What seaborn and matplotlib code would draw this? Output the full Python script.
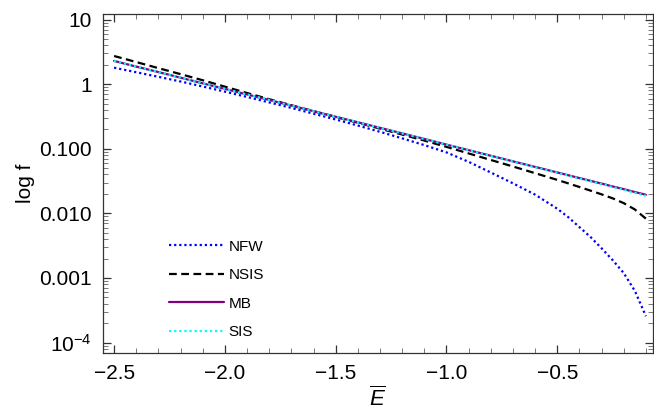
import numpy as np
import pandas as pd
import matplotlib
matplotlib.use("Agg")
import matplotlib.pyplot as plt
import matplotlib.ticker as mticker
import seaborn as sns

# Dimensionless energy grid
energy = [-2.5, -2.4, -2.3, -2.2, -2.1, -2.0, -1.9, -1.8, -1.7, -1.6, -1.5,
          -1.4, -1.3, -1.2, -1.1, -1.0, -0.9, -0.8, -0.7, -0.6, -0.5,
          -0.45, -0.4, -0.35, -0.3, -0.25, -0.2, -0.15, -0.1]

# Distribution function f(E) for each halo model
f_nfw = [1.80, 1.53, 1.30, 1.10, 0.920, 0.766, 0.634, 0.522, 0.429, 0.349, 0.284,
         0.229, 0.183, 0.145, 0.114, 0.0879, 0.0628, 0.0429, 0.0292, 0.0195, 0.0118,
         0.00871, 0.00612, 0.00431, 0.00288, 0.00189, 0.00119, 0.000632, 0.000256]
f_nsis = [2.73, 2.20, 1.77, 1.43, 1.15, 0.916, 0.730, 0.585, 0.472, 0.382, 0.311,
          0.253, 0.205, 0.166, 0.134, 0.107, 0.0847, 0.0671, 0.0532, 0.0419, 0.0330,
          0.0291, 0.0256, 0.0225, 0.0197, 0.0171, 0.0144, 0.0115, 0.00828]
f_mb = [2.29, 1.87, 1.54, 1.26, 1.03, 0.845, 0.693, 0.569, 0.466, 0.382, 0.313,
        0.257, 0.211, 0.173, 0.142, 0.116, 0.0951, 0.0780, 0.0639, 0.0524, 0.0430,
        0.0389, 0.0352, 0.0319, 0.0289, 0.0261, 0.0237, 0.0214, 0.0194]
f_sis = [2.29, 1.87, 1.54, 1.26, 1.03, 0.845, 0.693, 0.569, 0.466, 0.382, 0.313,
         0.257, 0.211, 0.173, 0.142, 0.116, 0.0948, 0.0776, 0.0634, 0.0519, 0.0425,
         0.0384, 0.0347, 0.0314, 0.0284, 0.0256, 0.0232, 0.0209, 0.0188]

model_names = ["NFW", "NSIS", "MB", "SIS"]
y_tick_values = [10, 1, 0.1, 0.01, 0.001, 1e-4]
y_tick_labels = ["10", "1", "0.100", "0.010", "0.001", r"$10^{-4}$"]
x_tick_values = [-2.5, -2.0, -1.5, -1.0, -0.5]

sns.set_theme(style="white")
plt.rcParams["font.family"] = ["Liberation Sans", "DejaVu Sans"]
plt.rcParams["mathtext.fontset"] = "custom"
plt.rcParams["mathtext.rm"] = "Liberation Sans"
plt.rcParams["mathtext.it"] = "Liberation Sans:italic"
plt.rcParams["text.color"] = "black"
plt.rcParams["axes.labelcolor"] = "black"

df = pd.DataFrame({
    "E": energy * 4,
    "f": f_nfw + f_nsis + f_mb + f_sis,
    "model": sum([[m] * len(energy) for m in model_names], []),
})

fig = plt.figure(figsize=(6.54, 4.20), dpi=100)
ax = fig.add_axes([0.1575, 0.1595, 0.841, 0.8072])

styles = {
    "NFW": dict(color="#0000ff", linestyle=(0, (1.0, 1.3))),
    "NSIS": dict(color="#000000", linestyle=(0, (3.5, 2.0))),
    "MB": dict(color="#800080", linestyle="-"),
    "SIS": dict(color="#00ffff", linestyle=(0, (1.0, 1.3))),
}
for name in model_names:
    sub = df[df["model"] == name]
    sns.lineplot(data=sub, x="E", y="f", ax=ax, label=name, linewidth=1.6,
                 **styles[name])

ax.set_yscale("log")
ax.set_xlim(-2.55, -0.068)
ax.set_ylim(6.9e-5, 12.2)

ax.set_yticks(y_tick_values)
ax.set_yticklabels(y_tick_labels)
ax.yaxis.set_minor_locator(mticker.LogLocator(base=10, subs=np.arange(2, 10), numticks=20))
ax.yaxis.set_minor_formatter(mticker.NullFormatter())
ax.set_xticks(x_tick_values)
ax.set_xticklabels([f"\u2212{abs(v):.1f}" for v in x_tick_values])
ax.xaxis.set_minor_locator(mticker.MultipleLocator(0.1))

ax.tick_params(which="both", direction="in", bottom=True, left=True,
               top=True, right=True, labelsize=15, labelcolor="black", pad=8)
ax.tick_params(which="major", length=6, width=0.9, color="#333333")
ax.tick_params(which="minor", length=3.5, width=0.7, color="#777777")
for sp in ax.spines.values():
    sp.set_color("#333333")
    sp.set_linewidth(0.9)

ax.set_xlabel(r"$\overline{E}$", fontsize=16, labelpad=3)
ax.set_ylabel("log f", fontsize=15, labelpad=3)

leg = ax.legend(loc="upper left", bbox_to_anchor=(0.095, 0.375), frameon=False,
                fontsize=11, handlelength=3.6, handletextpad=0.3, labelspacing=0.95)
for t in leg.get_texts():
    t.set_color("black")

fig.savefig("out.png", dpi=100)
